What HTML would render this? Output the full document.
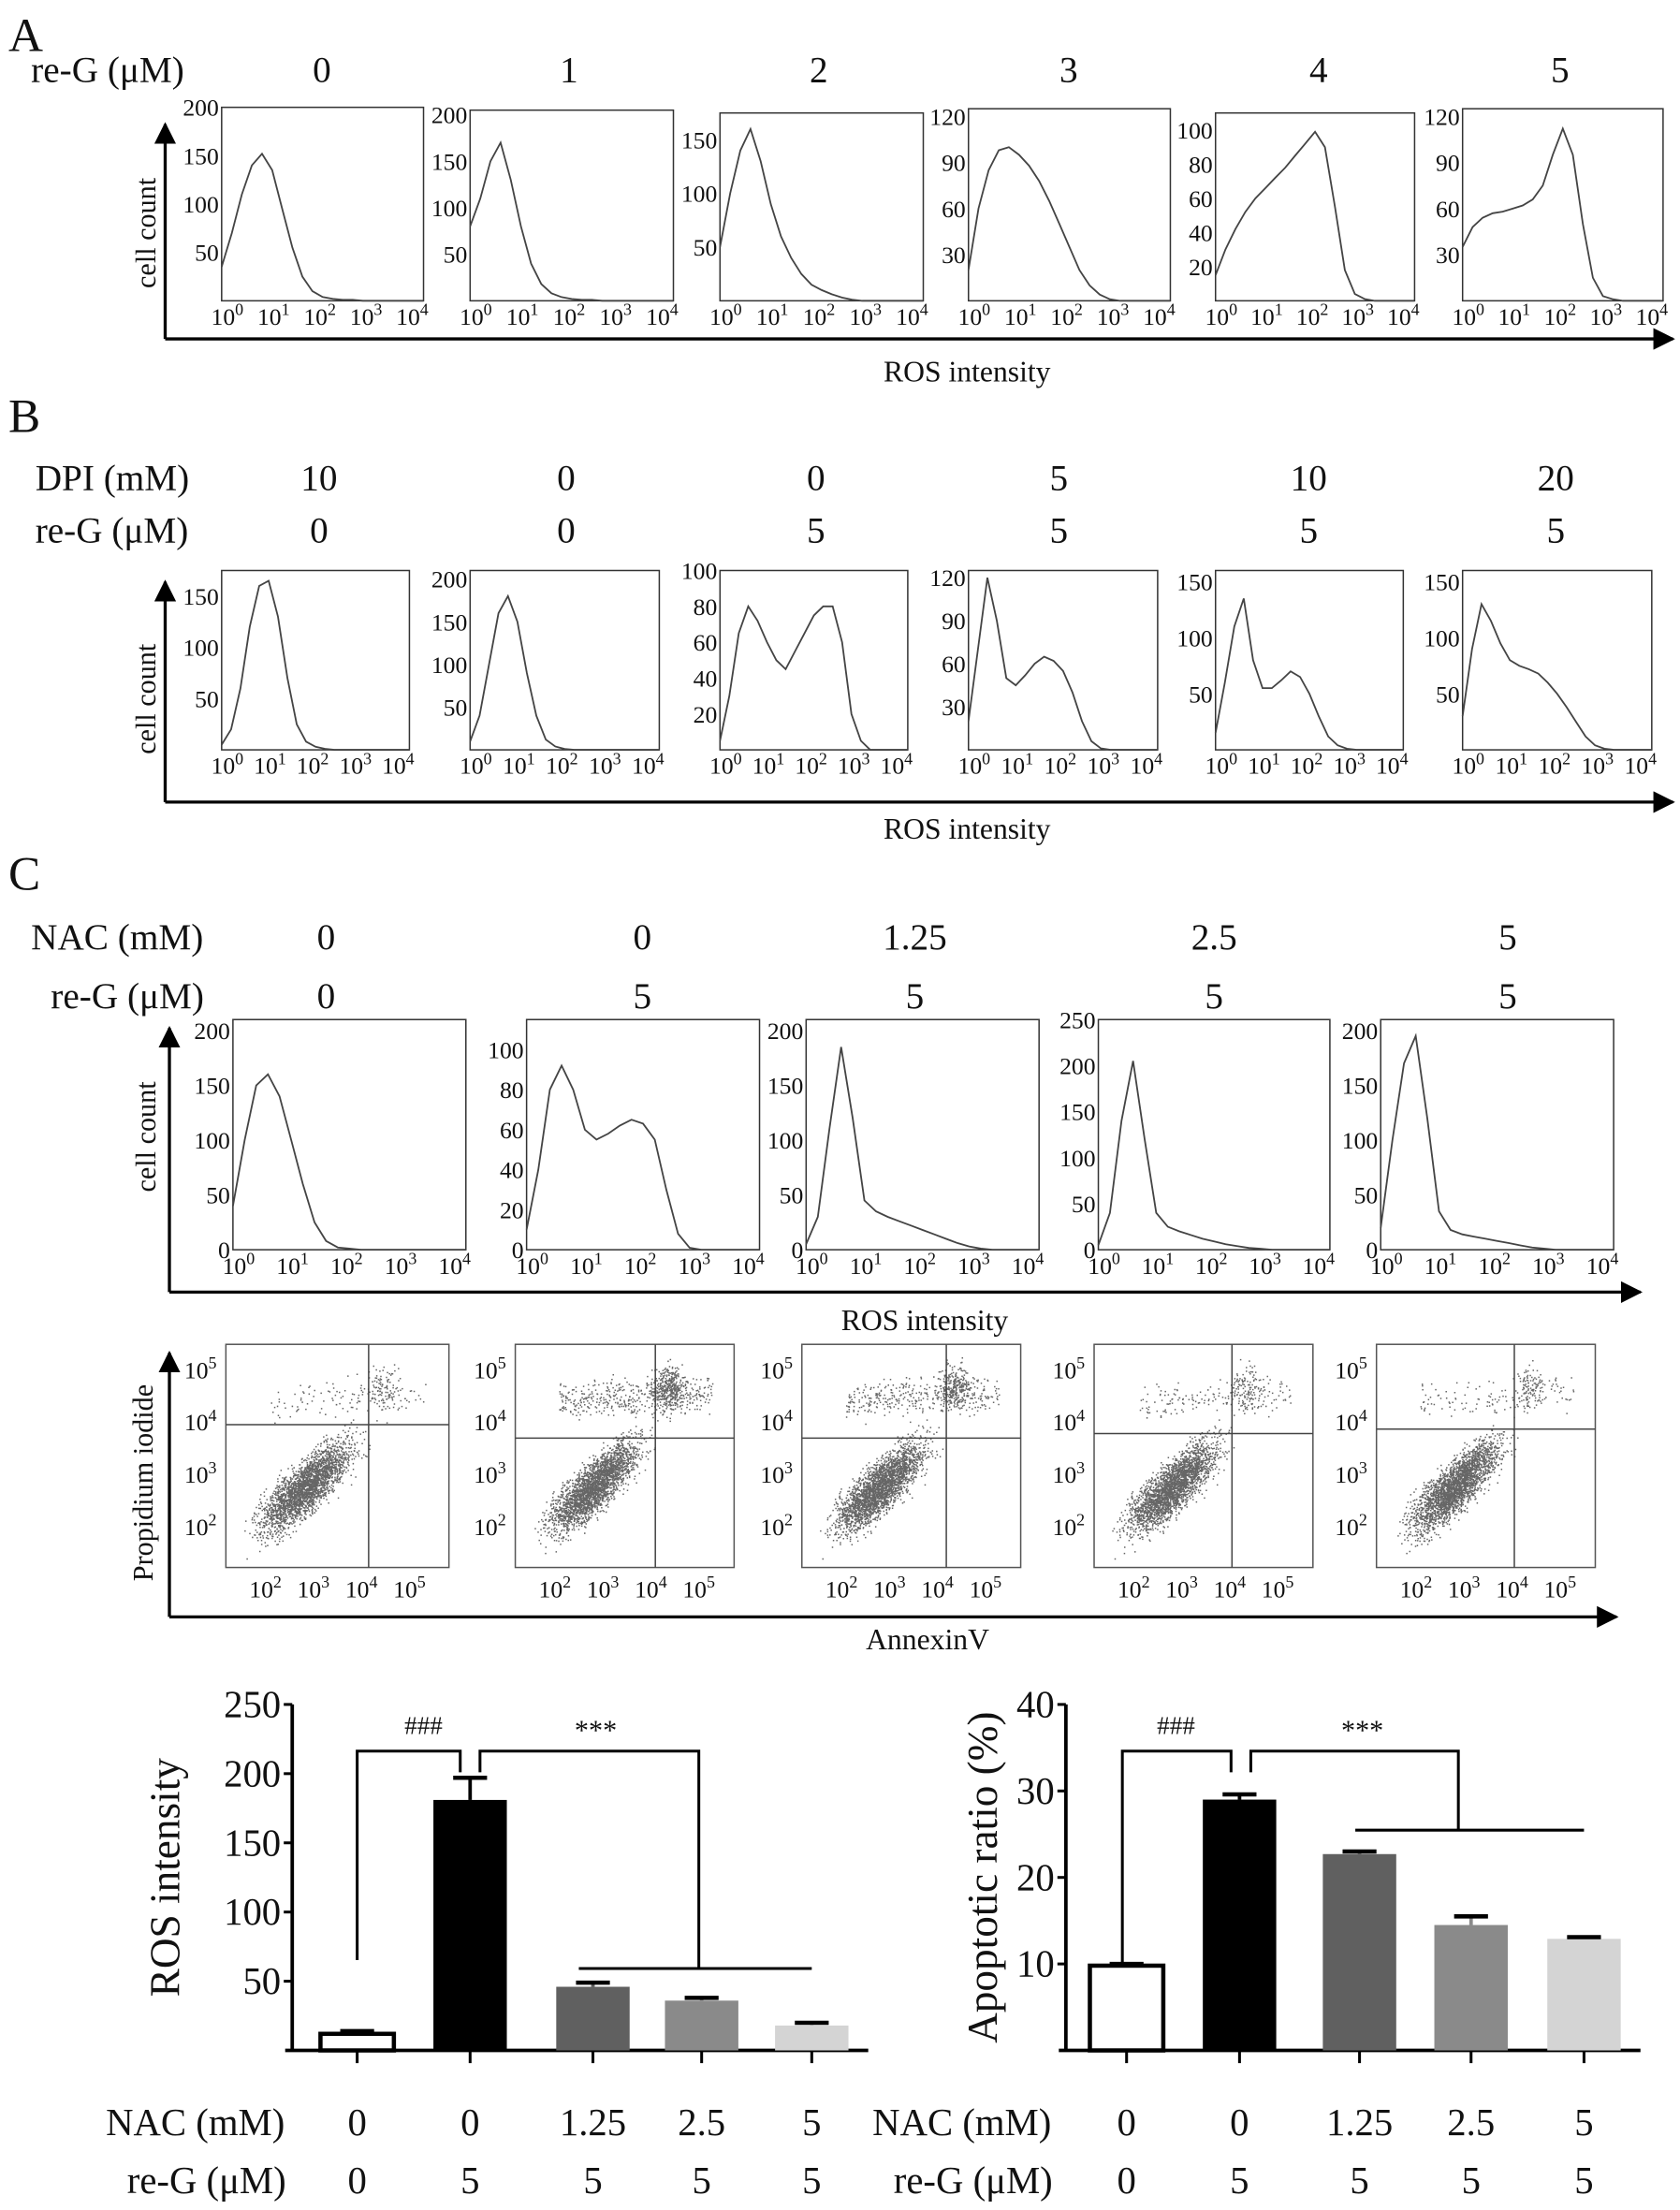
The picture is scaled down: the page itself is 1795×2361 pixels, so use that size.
<!DOCTYPE html>
<html><head><meta charset="utf-8"><style>
html,body{margin:0;padding:0;background:#fff}
svg{display:block}
text{font-family:"Liberation Serif",serif;fill:#111}
</style></head><body>
<svg id="fig" xmlns="http://www.w3.org/2000/svg" width="1795" height="2361" viewBox="0 0 1190 1565" preserveAspectRatio="none">
<defs><marker id="ar" viewBox="0 0 10 10" refX="9" refY="5" markerWidth="7" markerHeight="7" orient="auto"><path d="M0,0L10,5L0,10z" fill="#000"/></marker></defs>
<g id="root"></g>
</svg>
<script>
// ---------- data ----------
const aDoses=["0","1","2","3","4","5"];
const bDPI=["10","0","0","5","10","20"];
const bReG=["0","0","5","5","5","5"];
const cNAC=["0","0","1.25","2.5","5"];
const cReG=["0","5","5","5","5"];
// histogram counts sampled every 0.2 decade from 10^0 to 10^4
const histA=[
[35,70,110,140,152,135,95,55,25,10,4,2,1,1,0,0,0,0,0,0,0],
[80,110,150,170,130,80,40,18,8,4,2,1,1,0,0,0,0,0,0,0,0],
[50,100,140,160,130,90,60,40,25,15,10,6,3,1,0,0,0,0,0,0,0],
[20,60,85,98,100,95,88,78,65,50,35,20,10,4,1,0,0,0,0,0,0],
[15,30,42,52,60,66,72,78,85,92,99,90,55,18,4,1,0,0,0,0,0],
[35,48,54,57,58,60,62,66,75,95,112,95,50,15,3,1,0,0,0,0,0]];
const histAMax=[200,205,175,125,110,125];
const histATicks=[[50,100,150,200],[50,100,150,200],[50,100,150],[30,60,90,120],[20,40,60,80,100],[30,60,90,120]];
const histB=[
[5,20,60,120,160,165,130,70,25,8,3,1,0,0,0,0,0,0,0,0,0],
[10,40,100,160,180,150,90,40,12,4,1,0,0,0,0,0,0,0,0,0,0],
[5,30,65,80,72,60,50,45,55,65,75,80,80,60,20,5,0,0,0,0,0],
[20,70,120,90,50,45,52,60,65,62,55,40,20,6,1,0,0,0,0,0,0],
[15,60,110,135,80,55,55,62,70,65,50,30,12,4,1,0,0,0,0,0,0],
[30,90,130,115,95,80,75,72,68,60,50,38,25,12,4,1,0,0,0,0,0]];
const histBMax=[175,210,100,125,160,160];
const histBTicks=[[50,100,150],[50,100,150,200],[20,40,60,80,100],[30,60,90,120],[50,100,150],[50,100,150]];
const histC=[
[40,100,150,160,140,100,60,25,8,2,1,0,0,0,0,0,0,0,0,0,0],
[10,40,80,92,80,60,55,58,62,65,63,55,30,8,1,0,0,0,0,0,0],
[5,30,110,185,120,45,35,30,26,22,18,14,10,6,3,1,0,0,0,0,0],
[5,40,140,205,120,40,25,20,16,12,9,6,4,2,1,0,0,0,0,0,0],
[20,100,170,195,120,35,18,14,12,10,8,6,4,2,1,0,0,0,0,0,0]];
const histCMax=[210,115,210,250,210];
const histCTicks=[[0,50,100,150,200],[0,20,40,60,80,100],[0,50,100,150,200],[0,50,100,150,200,250],[0,50,100,150,200]];
// dot plots: quadrant gate (fractions), upper population size
const dotGateX=[0.64,0.64,0.66,0.63,0.63];
const dotGateY=[0.36,0.42,0.42,0.4,0.38];
const dotUpper=[120,450,350,160,130];
// bar charts
const barCats=["0","0","1.25","2.5","5"];
const barReG=["0","5","5","5","5"];
const rosVals=[12,181,46,36,18];
const rosErr=[2,16,3,2,2];
const rosTicks=[50,100,150,200,250];
const apoVals=[9.8,29,22.7,14.5,12.9];
const apoErr=[0.2,0.6,0.3,1,0.2];
const apoTicks=[10,20,30,40];
const barFill=["#fff","#000","#606060","#8a8a8a","#d4d4d4"];

// ---------- helpers ----------
const NS="http://www.w3.org/2000/svg";
const root=document.getElementById('root');
function el(tag,attrs,parent,txt){const e=document.createElementNS(NS,tag);for(const k in attrs)e.setAttribute(k,attrs[k]);if(txt!==undefined)e.textContent=txt;(parent||root).appendChild(e);return e;}
function T(x,y,s,size,anchor,parent){const t=el('text',{x:x,y:y,'font-size':size||22,'text-anchor':anchor||'start'},parent,s);return t;}
function sup(x,y,n,size,parent){const t=el('text',{x:x,y:y,'font-size':size,'text-anchor':'middle'},parent);el('tspan',{},t,'10');el('tspan',{dy:-size*0.4,'font-size':size*0.7},t,n);return t;}

function hist(x0,y0,x1,y1,vals,ymax,ticks,name){
  const g=el('g',{});
  
  
  el('rect',{x:x0,y:y0,width:x1-x0,height:y1-y0,fill:'none',stroke:'#333','stroke-width':1},g);
  const sx=i=>x0+(x1-x0)*i/(vals.length-1);
  const sy=v=>y1-(y1-y0)*v/ymax;
  let d='';
  vals.forEach((v,i)=>{d+=(i?'L':'M')+sx(i).toFixed(1)+','+sy(v).toFixed(1);});
  const p=el('path',{d:d,fill:'none',stroke:'#444','stroke-width':1.2},g);
  
  
  ticks.forEach(t=>{T(x0-2,sy(t)+6,String(t),17,'end',g);});
  for(let k=0;k<5;k++){sup(x0+4+(x1-x0-12)*k/4,y1+17,String(k),17,g);}
  return g;
}
// seeded LCG for dot scatter texture
let seed=7;function rnd(){seed=(seed*1103515245+12345)%2147483648;return seed/2147483648;}
function gauss(){return (rnd()+rnd()+rnd()+rnd()-2)/1.15;}
function dots(x0,y0,x1,y1,i){
  const g=el('g',{});
  
  
  el('rect',{x:x0,y:y0,width:x1-x0,height:y1-y0,fill:'none',stroke:'#555','stroke-width':1},g);
  const w=x1-x0,h=y1-y0;
  let d='';
  for(let k=0;k<2600;k++){
    const a=gauss(),b=gauss();
    const u=0.36+a*0.19+b*0.03, v=0.64-a*0.17+b*0.09;
    const px=x0+w*u, py=y0+h*v;
    if(px>x0+2&&px<x1-2&&py>y0+2&&py<y1-2) d+='M'+px.toFixed(1)+','+py.toFixed(1)+'h1';
  }
  for(let k=0;k<dotUpper[i];k++){
    const u=0.2+rnd()*0.7, v=0.22+gauss()*0.08+(0.9-u)*0.05;
    d+='M'+(x0+w*u).toFixed(1)+','+(y0+h*v).toFixed(1)+'h1';
  }
  for(let k=0;k<dotUpper[i]*0.8;k++){
    const u=0.7+gauss()*0.07, v=0.2+gauss()*0.1;
    d+='M'+(x0+w*u).toFixed(1)+','+(y0+h*v).toFixed(1)+'h1';
  }
  el('path',{d:d,stroke:'#333','stroke-width':1,fill:'none',opacity:0.75},g);
  el('line',{x1:x0+w*dotGateX[i],x2:x0+w*dotGateX[i],y1:y0,y2:y1,stroke:'#444','stroke-width':1},g);
  el('line',{x1:x0,x2:x1,y1:y0+h*dotGateY[i],y2:y0+h*dotGateY[i],stroke:'#444','stroke-width':1},g);
  ['5','4','3','2'].forEach((n,k)=>sup(x0-18,y0+24+k*37,n,17,g));
  ['2','3','4','5'].forEach((n,k)=>sup(x0+28+k*34,y1+21,n,17,g));
  return g;
}
function axisArrows(x,ytop,ybot,xend,name){
  const g=el('g',{});
  
  
  el('line',{x1:x,y1:ybot,x2:x,y2:ytop,stroke:'#000','stroke-width':2.2,'marker-end':'url(#ar)'},g);
  el('line',{x1:x,y1:ybot,x2:xend,y2:ybot,stroke:'#000','stroke-width':2.2,'marker-end':'url(#ar)'},g);
}
function vtext(x,y,s,size,name){const t=el('text',{x:0,y:0,'font-size':size,'text-anchor':'middle',transform:`translate(${x},${y}) rotate(-90)`},root,s);return t;}

// ---------- Panel A ----------
T(6,36,'A',34);
T(22,58,'re-G (μM)',26);
const aCx=[228,403,580,757,934,1105];
aDoses.forEach((s,i)=>T(aCx[i],58,s,26,'middle'));
const aBox=[[157,76,300],[333,78,477],[510,80,654],[686,77,829],[861,80,1002],[1036,77,1178]];
aBox.forEach((b,i)=>hist(b[0],b[1],b[2],213,histA[i],histAMax[i],histATicks[i],'histogram-a-'+aDoses[i]));
axisArrows(117,88,240,1185,'axes-a');
vtext(110,165,'cell count',20,'y-axis-title-a');
T(685,270,'ROS intensity',21,'middle');

// ---------- Panel B ----------
T(6,306,'B',34);
T(25,347,'DPI (mM)',26);
T(25,384,'re-G (μM)',26);
const bCx=[226,401,578,750,927,1102];
bDPI.forEach((s,i)=>T(bCx[i],347,s,26,'middle'));
bReG.forEach((s,i)=>T(bCx[i],384,s,26,'middle'));
const bBox=[[157,290],[333,467],[510,643],[686,820],[861,994],[1036,1170]];
bBox.forEach((b,i)=>hist(b[0],404,b[1],531,histB[i],histBMax[i],histBTicks[i],'histogram-b-'+(i+1)));
axisArrows(117,412,568,1185,'axes-b');
vtext(110,495,'cell count',20,'y-axis-title-b');
T(685,594,'ROS intensity',21,'middle');

// ---------- Panel C ----------
T(6,630,'C',34);
T(22,672,'NAC (mM)',26);
T(36,714,'re-G (μM)',26);
const cCx=[231,455,648,860,1068];
cNAC.forEach((s,i)=>T(cCx[i],672,s,26,'middle'));
cReG.forEach((s,i)=>T(cCx[i],714,s,26,'middle'));
const cBox=[[165,330],[373,538],[571,736],[778,942],[978,1143]];
cBox.forEach((b,i)=>hist(b[0],722,b[1],885,histC[i],histCMax[i],histCTicks[i],'histogram-c-'+(i+1)));
axisArrows(120,728,915,1162,'axes-c-ros');
vtext(110,805,'cell count',20,'y-axis-title-c');
T(655,942,'ROS intensity',21,'middle');
const dBox=[[160,318],[365,520],[568,723],[775,930],[975,1130]];
dBox.forEach((b,i)=>dots(b[0],952,b[1],1110,i));
axisArrows(120,958,1145,1145,'axes-c-annexin');
vtext(108,1050,'Propidium iodide',20,'y-axis-title-pi');
T(657,1168,'AnnexinV',21,'middle');

// ---------- Bar charts ----------
function barChart(ax,top,base,xs,vals,errs,ticks,tmax,ytitle,titleX,prefix,labX){
  const sy=v=>base-(base-top)*v/tmax;
  const g=el('g',{});
  
  
  el('line',{x1:ax,y1:top,x2:ax,y2:base,stroke:'#000','stroke-width':2.5},g);
  el('line',{x1:ax-5,y1:base,x2:xs[4]+40,y2:base,stroke:'#000','stroke-width':2.5},g);
  ticks.forEach(t=>{el('line',{x1:ax-6,x2:ax,y1:sy(t),y2:sy(t),stroke:'#000','stroke-width':2},g);T(ax-8,sy(t)+9,String(t),27,'end',g);});
  xs.forEach(x=>el('line',{x1:x,x2:x,y1:base,y2:base+9,stroke:'#000','stroke-width':2},g));
  vals.forEach((v,i)=>{
    const b=el('rect',{x:xs[i]-26,y:sy(v),width:52,height:base-sy(v),fill:barFill[i],stroke:i===0?'#000':'none','stroke-width':3},g);
    
    
    el('line',{x1:xs[i],x2:xs[i],y1:sy(v),y2:sy(v+errs[i]),stroke:i===1?'#000':barFill[i]==='#fff'?'#000':barFill[i],'stroke-width':2.5},g);
    el('line',{x1:xs[i]-12,x2:xs[i]+12,y1:sy(v+errs[i]),y2:sy(v+errs[i]),stroke:'#000','stroke-width':3},g);
  });
  vtext(titleX,(top+base)/2,ytitle,30,prefix+'-y-axis-title');
  T(labX,1512,'NAC (mM)',27);
  T(labX+15,1553,'re-G (μM)',27);
  barCats.forEach((s,i)=>T(xs[i],1512,s,27,'middle',g));
  barReG.forEach((s,i)=>T(xs[i],1553,s,27,'middle',g));
  return sy;
}
const rosX=[253,333,420,497,575];
barChart(207,1207,1452,rosX,rosVals,rosErr,rosTicks,250,'ROS intensity',127,'ros',75);
(function(){const g=el('g',{stroke:'#000','stroke-width':2,fill:'none'});

el('path',{d:'M253,1388V1240H326V1255'},g);el('path',{d:'M340,1255V1240H495V1394'},g);el('path',{d:'M410,1394H575'},g);
T(300,1228,'###',18,'middle').setAttribute('fill','#555');T(422,1232,'***',20,'middle');})();
const apoX=[798,878,963,1042,1122];
barChart(755,1207,1452,apoX,apoVals,apoErr,apoTicks,40,'Apoptotic ratio (%)',706,'apoptotic',618);
(function(){const g=el('g',{stroke:'#000','stroke-width':2,fill:'none'});

el('path',{d:'M795,1390V1240H872V1255'},g);el('path',{d:'M886,1255V1240H1033V1296'},g);el('path',{d:'M960,1296H1122'},g);
T(833,1228,'###',18,'middle').setAttribute('fill','#555');T(965,1232,'***',20,'middle');})();
</script>
</body></html>
